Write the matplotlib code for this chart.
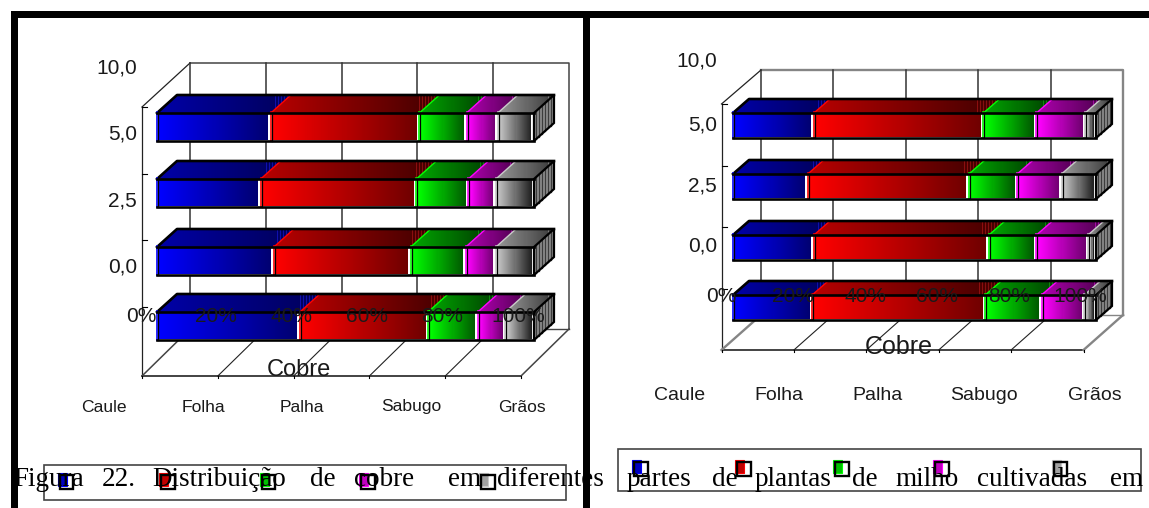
import numpy as np
import matplotlib
matplotlib.use("Agg")
import matplotlib.pyplot as plt
from matplotlib.patches import Polygon, Rectangle

# partes da planta e doses
partes = ["Caule", "Folha", "Palha", "Sabugo", "Grãos"]
doses = ["10,0", "5,0", "2,5", "0,0"]
pct_labels = ["0%", "20%", "40%", "60%", "80%", "100%"]
titulo_x = "Cobre"

# % por barra, de cima para baixo
esq_caule = [30.2, 27.5, 31.0, 37.9]
esq_folha = [39.4, 41.3, 36.3, 34.0]
esq_palha = [12.5, 13.8, 14.6, 13.2]
esq_sabugo = [8.3, 7.3, 8.0, 7.3]
esq_graos = [9.6, 10.1, 10.1, 7.6]

dir_caule = [22.3, 20.6, 22.3, 21.8]
dir_folha = [46.7, 44.4, 48.2, 47.7]
dir_palha = [14.6, 13.3, 13.1, 15.5]
dir_sabugo = [13.4, 12.2, 14.2, 11.8]
dir_graos = [3.0, 9.5, 2.2, 3.2]

legenda_palavras = ["Figura", "22.", "Distribuição", "de", "cobre", "em", "diferentes",
                    "partes", "de", "plantas", "de", "milho", "cultivadas", "em"]
legenda_x = [13, 102, 152, 310, 354, 448, 497, 627, 712, 755, 852, 895, 977, 1110]

# cor clara, cor escura da frente / do topo / amostra da legenda
CORES = [("#0000ff", "#000070", "#0000a8", "#00005a", "#0000c0"),
         ("#ff0000", "#700000", "#b80000", "#400000", "#c00000"),
         ("#00ff00", "#005800", "#00a800", "#004000", "#00c000"),
         ("#ff00ff", "#700070", "#b000b0", "#500050", "#c000c0"),
         ("#c8c8c8", "#202020", "#989898", "#383838", "#a0a0a0")]

ESQ = dict(x0=157, x100=534, dx=20, dy=18, yt=[113, 179, 247, 312], alt=28,
           fl=142, fr=521, ftop=107, fbot=376, bdx=48, bdy=47, btop=63,
           ytick_y=[107, 174, 240, 307], ylab_x=137, ylab_y=[68, 134, 201, 267],
           cat_x=[104, 203, 302, 411, 522], cat_y=407, cat_fs=12.6,
           pct_x0=141, pct_w=377, pct_y=317, tit_x=299, tit_y=370, tit_fs=17,
           leg=(44, 465, 566, 500), leg_x=[59.5, 161, 261.5, 361, 481], leg_y=475,
           borda="#444444", borda_lw=1.1)
DIR = dict(x0=733, x100=1096, dx=16, dy=14, yt=[113, 174, 235, 295], alt=25,
           fl=721.5, fr=1083.5, ftop=104, fbot=350, bdx=39.5, bdy=35, btop=70,
           ytick_y=[104, 166, 227, 289], ylab_x=717, ylab_y=[61, 125, 186, 246],
           cat_x=[680, 778.5, 877, 984, 1094.5], cat_y=395, cat_fs=14,
           pct_x0=721.5, pct_w=359, pct_y=296, tit_x=898.5, tit_y=347, tit_fs=18,
           leg=(618, 449, 1140.5, 491), leg_x=[634, 737, 835, 935, 1053.5], leg_y=462,
           borda="#858585", borda_lw=1.7)


def _rgb(c):
    return np.array(matplotlib.colors.to_rgb(c))


def _gradiente(c0, c1, n, riscos=False):
    t = np.linspace(0, 1, max(n, 2))[:, None]
    img = _rgb(c0) * (1 - t) + _rgb(c1) * t
    if riscos:
        # faixas claras no fim do topo, como no grafico original
        ini = int(len(img) * 0.88)
        img[ini::3] = np.clip(img[ini::3] * 1.6 + 0.06, 0, 1)
    return img[None, :, :]


def _face(ax, pts, c0, c1, riscos=False, z=3):
    xs = [p[0] for p in pts]
    ys = [p[1] for p in pts]
    n = int(max(xs) - min(xs))
    im = ax.imshow(_gradiente(c0, c1, n, riscos), extent=[min(xs), max(xs), max(ys), min(ys)],
                   aspect="auto", interpolation="nearest", zorder=z)
    clip = Polygon(pts, closed=True, transform=ax.transData)
    im.set_clip_path(clip)


def _barra(ax, p, yt, valores):
    alt, dx, dy = p["alt"], p["dx"], p["dy"]
    larg = p["x100"] - p["x0"]
    esq = p["x0"]
    # topo
    for v, cor in zip(valores, CORES):
        dir_ = esq + larg * v / 100
        topo = [(esq, yt), (dir_, yt), (dir_ + dx, yt - dy), (esq + dx, yt - dy)]
        _face(ax, topo, cor[2], cor[3], riscos=True, z=3)
        ax.plot([esq, esq + dx], [yt, yt - dy], color=cor[0], lw=1, zorder=4)
        esq = dir_
    # lado direito
    xf = p["x100"]
    lado = [(xf, yt), (xf + dx, yt - dy), (xf + dx, yt + alt - dy), (xf, yt + alt)]
    ax.add_patch(Polygon(lado, closed=True, fc="#8c8c8c", ec="none", zorder=3))
    for xr in np.arange(xf + 2, xf + dx, 3):
        frac = (xr - xf) / dx
        ax.plot([xr, xr], [yt - dy * frac, yt + alt - dy * frac], color="#3c3c3c", lw=0.9, zorder=3.5)
    ax.add_patch(Polygon(lado, closed=True, fc="none", ec="k", lw=1.6, zorder=5))
    ax.plot([p["x0"], p["x0"] + dx, xf + dx], [yt, yt - dy, yt - dy], color="k", lw=1.9, zorder=5)
    # frente
    esq = p["x0"]
    for v, cor in zip(valores, CORES):
        dir_ = esq + larg * v / 100
        ax.add_patch(Rectangle((esq, yt), dir_ - esq, alt, fc="white", ec="none", zorder=4))
        frente = [(esq + 1.5, yt + 1), (dir_ - 2.5, yt + 1), (dir_ - 2.5, yt + alt - 1), (esq + 1.5, yt + alt - 1)]
        _face(ax, frente, cor[0], cor[1], z=4.5)
        ax.plot([esq, esq], [yt - 1, yt + alt], color=cor[0], lw=1.2, zorder=5)
        ax.plot([esq + 1, esq + 1], [yt, yt + alt], color="k", lw=0.9, zorder=5)
        esq = dir_
    ax.plot([p["x0"], xf], [yt, yt], color="k", lw=1.9, zorder=6)
    ax.plot([p["x0"], xf], [yt + alt, yt + alt], color="k", lw=1.9, zorder=6)
    ax.plot([xf, xf], [yt, yt + alt], color="k", lw=1.4, zorder=6)


def _painel(ax, p, series):
    fl, fr, ftop, fbot = p["fl"], p["fr"], p["ftop"], p["fbot"]
    bdx, bdy, btop = p["bdx"], p["bdy"], p["btop"]
    w = fr - fl
    bbot = fbot - bdy
    cor, blw = p["borda"], p["borda_lw"]
    # paredes e piso
    ax.plot([fl + bdx, fl + bdx + w, fl + bdx + w], [btop, btop, bbot], color=cor, lw=blw, zorder=1)
    ax.plot([fl, fl + bdx], [ftop, btop], color="#222222", lw=0.9, zorder=1)
    ax.plot([fl, fl], [ftop, fbot], color="#222222", lw=0.9, zorder=2)
    ax.plot([fl, fr], [fbot, fbot], color="#222222", lw=1.2, zorder=2)
    ax.plot([fr, fr + bdx], [fbot, bbot], color=cor, lw=blw, zorder=2)
    ax.plot([fl, fl + bdx], [fbot, bbot], color=cor, lw=blw, zorder=2)
    ax.plot([fl + bdx, fl + bdx + w], [bbot, bbot], color=cor, lw=1, zorder=1)
    n = len(pct_labels) - 1
    for i in range(n + 1):
        f = i / n
        if i < n:
            ax.plot([fl + bdx + f * w] * 2, [btop, bbot], color="#333333", lw=1.1, zorder=1)
        if 0 < i < n:
            ax.plot([fl + f * w, fl + bdx + f * w], [fbot, bbot], color="#222222", lw=0.8, zorder=2)
        ax.plot([fl + f * w] * 2, [fbot, fbot + 2], color="k", lw=0.8, zorder=2)
    for y in p["ytick_y"]:
        ax.plot([fl, fl + 5], [y, y], color="k", lw=0.8, zorder=2)

    for i, yt in enumerate(p["yt"]):
        _barra(ax, p, yt, [s[i] for s in series])

    # textos
    for txt, y in zip(doses, p["ylab_y"]):
        ax.text(p["ylab_x"], y, txt, ha="right", va="center", fontsize=15, color="#1a1a1a", zorder=8)
    for i, txt in enumerate(pct_labels):
        x = p["pct_x0"] + p["pct_w"] * i / n
        ax.text(x, p["pct_y"], txt, ha="center", va="center", fontsize=15, color="#1a1a1a", zorder=8)
    ax.text(p["tit_x"], p["tit_y"], titulo_x, ha="center", va="center", fontsize=p["tit_fs"],
            color="#1a1a1a", zorder=8)
    for txt, x in zip(partes, p["cat_x"]):
        ax.text(x, p["cat_y"], txt, ha="center", va="center", fontsize=p["cat_fs"], color="#1a1a1a", zorder=8)

    # legenda sem rotulos
    x0, y0, x1, y1 = p["leg"]
    ax.add_patch(Rectangle((x0, y0), x1 - x0, y1 - y0, fc="white", ec="#444444", lw=1.2, zorder=7))
    for x, cor_ in zip(p["leg_x"], CORES):
        ax.add_patch(Rectangle((x - 2, p["leg_y"] - 2), 9, 13, fc=cor_[4], ec=cor_[0], lw=0.8, zorder=7.2))
        ax.add_patch(Rectangle((x, p["leg_y"]), 13.5, 13.5, fc="none", ec="k", lw=1.7, zorder=7.3))


plt.rcParams["font.family"] = ["Liberation Sans", "DejaVu Sans"]
fig = plt.figure(figsize=(11.49, 5.08), dpi=100)
ax = fig.add_axes([0, 0, 1, 1])

_painel(ax, ESQ, [esq_caule, esq_folha, esq_palha, esq_sabugo, esq_graos])
_painel(ax, DIR, [dir_caule, dir_folha, dir_palha, dir_sabugo, dir_graos])

# molduras pretas
ax.add_patch(Rectangle((10.5, 11), 1138.5, 7, fc="k", ec="none", zorder=9))
ax.add_patch(Rectangle((10.5, 11), 7.5, 497, fc="k", ec="none", zorder=9))
ax.add_patch(Rectangle((582.5, 11), 7, 497, fc="k", ec="none", zorder=9))

for palavra, x in zip(legenda_palavras, legenda_x):
    ax.text(x, 479, palavra, ha="left", va="center", fontsize=19.5, family="Liberation Serif",
            color="k", zorder=10)

ax.set_xlim(0, 1149)
ax.set_ylim(508, 0)
ax.axis("off")
fig.savefig("out.png", dpi=100)
